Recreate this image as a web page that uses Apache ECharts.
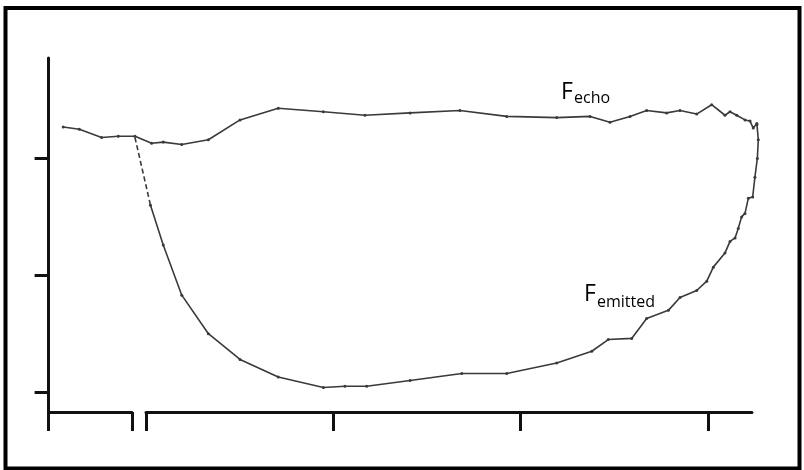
<!DOCTYPE html>
<html>
<head>
<meta charset="utf-8">
<script src="https://cdn.jsdelivr.net/npm/echarts@6/dist/echarts.min.js"></script>
<style>
  html, body { margin: 0; padding: 0; background: #fff; }
  #chart { width: 804px; height: 470px; }
</style>
</head>
<body>
<div id="chart"></div>
<script>
// Echo flux (upper trace)
const echoX = [-4.42, -3.56, -2.37, -1.48, -0.59, 0.30, 0.92, 1.91, 3.33, 5.02, 7.06, 9.47,
  11.69, 14.10, 16.76, 19.26, 21.93, 23.71, 24.77, 25.84, 26.73, 27.80, 28.51, 29.40,
  30.20, 30.91, 31.18, 31.54, 31.98, 32.25, 32.42, 32.61];
const echoY = [3.27, 3.25, 3.18, 3.19, 3.19, 3.13, 3.14, 3.12, 3.16, 3.33, 3.43, 3.40,
  3.37, 3.39, 3.41, 3.36, 3.35, 3.36, 3.31, 3.36, 3.41, 3.39, 3.41, 3.38,
  3.46, 3.37, 3.40, 3.37, 3.33, 3.32, 3.26, 3.30];

// Emitted flux: dashed lead-in after the split, then the measured trace
const leadX = [-0.59, 0.24];
const leadY = [3.18, 2.60];
const emittedX = [0.24, 0.92, 1.91, 3.33, 5.02, 7.06, 9.47, 10.62, 11.78, 14.10, 16.86, 19.26,
  21.93, 23.80, 24.68, 25.93, 26.73, 27.89, 28.51, 29.40, 29.94, 30.29, 30.91, 31.18,
  31.45, 31.62, 31.80, 31.98, 32.16, 32.39, 32.51, 32.64, 32.69, 32.62];
const emittedY = [2.60, 2.26, 1.83, 1.50, 1.28, 1.13, 1.04, 1.05, 1.05, 1.10, 1.16, 1.16,
  1.25, 1.35, 1.45, 1.46, 1.63, 1.70, 1.81, 1.87, 1.95, 2.07, 2.19, 2.29,
  2.32, 2.40, 2.50, 2.53, 2.66, 2.67, 2.84, 3.00, 3.16, 3.29];

// Axis tick positions
const xTicksLeft = [-5.2, -0.75];
const xTicksRight = [0, 10, 20, 30];
const yTicks = [1, 2, 3];

// Axis extents
const X_MIN = -5.2, X_BREAK = -0.75, X_AXIS_END = 32.35, X_DATA_END = 33.3;
const Y_MIN = 0.83, Y_MAX = 3.86;

// Layout
const PX_PER_X = 18.73, ORIGIN_PX = 146, TOP = 58, PLOT_H = 354;
const left = v => ORIGIN_PX + v * PX_PER_X;

const INK = '#111';
const TRACE = '#3a3a3a';

const zip = (xs, ys) => xs.map((x, i) => [x, ys[i]]);

const hiddenAxis = { show: false, axisLine: { onZero: false } };

const chart = echarts.init(document.getElementById('chart'), null, { renderer: 'canvas' });

chart.setOption({
  animation: false,
  backgroundColor: '#fff',
  grid: [
    // data area
    { left: left(X_MIN), top: TOP, width: (X_DATA_END - X_MIN) * PX_PER_X, height: PLOT_H },
    // axis segment before the break (carries the y axis)
    { left: left(X_MIN), top: TOP, width: (X_BREAK - X_MIN) * PX_PER_X, height: PLOT_H },
    // axis segment after the break
    { left: left(0), top: TOP, width: X_AXIS_END * PX_PER_X, height: PLOT_H }
  ],
  xAxis: [
    Object.assign({ type: 'value', gridIndex: 0, min: X_MIN, max: X_DATA_END }, hiddenAxis),
    {
      type: 'value', gridIndex: 1, min: X_MIN, max: X_BREAK,
      axisLine: { show: true, onZero: false, lineStyle: { color: INK, width: 3 } },
      axisTick: { show: true, inside: false, length: 19, customValues: xTicksLeft, lineStyle: { color: INK, width: 3 } },
      axisLabel: { show: false },
      splitLine: { show: false }
    },
    {
      type: 'value', gridIndex: 2, min: 0, max: X_AXIS_END,
      axisLine: { show: true, onZero: false, lineStyle: { color: INK, width: 3 } },
      axisTick: { show: true, inside: false, length: 19, customValues: xTicksRight, lineStyle: { color: INK, width: 3 } },
      axisLabel: { show: false },
      splitLine: { show: false }
    }
  ],
  yAxis: [
    Object.assign({ type: 'value', gridIndex: 0, min: Y_MIN, max: Y_MAX }, hiddenAxis),
    {
      type: 'value', gridIndex: 1, min: Y_MIN, max: Y_MAX,
      axisLine: { show: true, onZero: false, lineStyle: { color: INK, width: 3 } },
      axisTick: { show: true, inside: false, length: 14, customValues: yTicks, lineStyle: { color: INK, width: 3 } },
      axisLabel: { show: false },
      splitLine: { show: false }
    },
    Object.assign({ type: 'value', gridIndex: 2, min: Y_MIN, max: Y_MAX }, hiddenAxis)
  ],
  series: [
    {
      name: 'Fecho', type: 'line', xAxisIndex: 0, yAxisIndex: 0,
      data: zip(echoX, echoY),
      symbol: 'circle', symbolSize: 3, showSymbol: true,
      itemStyle: { color: TRACE },
      lineStyle: { color: TRACE, width: 1.6 }
    },
    {
      name: 'Femitted lead', type: 'line', xAxisIndex: 0, yAxisIndex: 0,
      data: zip(leadX, leadY),
      showSymbol: false,
      lineStyle: { color: TRACE, width: 1.6, type: [5, 3] }
    },
    {
      name: 'Femitted', type: 'line', xAxisIndex: 0, yAxisIndex: 0,
      data: zip(emittedX, emittedY),
      symbol: 'circle', symbolSize: 3, showSymbol: true,
      itemStyle: { color: TRACE },
      lineStyle: { color: TRACE, width: 1.6 }
    }
  ],
  graphic: [
    // outer frame
    {
      type: 'rect', silent: true,
      shape: { x: 5.5, y: 8, width: 794, height: 460.5 },
      style: { fill: 'none', stroke: '#000', lineWidth: 4 }
    },
    // trace labels
    { type: 'text', x: 561, y: 92.5, style: { text: 'F', font: '23px "Open Sans", sans-serif', fill: '#000', verticalAlign: 'middle' } },
    { type: 'text', x: 574, y: 98.5, style: { text: 'echo', font: '16px "Open Sans", sans-serif', fill: '#000', verticalAlign: 'middle' } },
    { type: 'text', x: 584, y: 294.5, style: { text: 'F', font: '23px "Open Sans", sans-serif', fill: '#000', verticalAlign: 'middle' } },
    { type: 'text', x: 597, y: 302, style: { text: 'emitted', font: '16px "Open Sans", sans-serif', fill: '#000', verticalAlign: 'middle' } }
  ]
});
</script>
</body>
</html>
